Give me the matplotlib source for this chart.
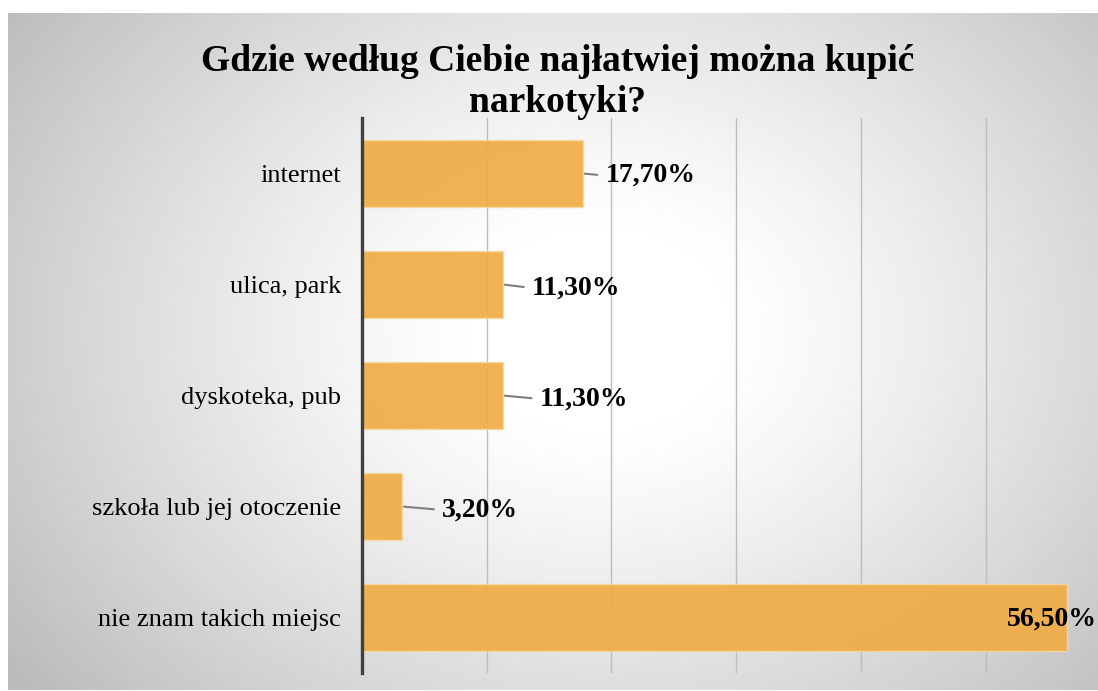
import numpy as np
import matplotlib
matplotlib.use("Agg")
from matplotlib import pyplot as plt

# dane z wykresu
kategorie = ["internet", "ulica, park", "dyskoteka, pub",
             "szkoła lub jej otoczenie", "nie znam takich miejsc"]
wartosci = [17.7, 11.3, 11.3, 3.2, 56.5]
etykiety = ["17,70%", "11,30%", "11,30%", "3,20%", "56,50%"]
tytul = "Gdzie według Ciebie najłatwiej można kupić\nnarkotyki?"

# przesunięcia etykiet (w punktach) - tylko wygląd
przes_x = [16.5, 21, 26.5, 29, 22]
przes_y = [-1.5, -2.5, -2.5, -2.5, -1.5]

W, H = 1098, 691
plt.rcParams['font.family'] = ['Liberation Serif', 'DejaVu Serif']

fig = plt.figure(figsize=(W / 100, H / 100), dpi=100)
fig.patch.set_facecolor("white")

# tło z gradientem (jasny środek, szare brzegi)
bx0, by0, bx1, by1 = 8, 13, W, 690
bg = fig.add_axes([bx0 / W, (H - by1) / H, (bx1 - bx0) / W, (by1 - by0) / H])
xx, yy = np.meshgrid(np.arange(bx0, bx1), np.arange(by0, by1))
d = np.sqrt(((xx - 600) / 600.0) ** 2 + ((yy - 330) / 470.0) ** 2)
t = np.clip((d - 0.22) / 1.0, 0, 1) ** 1.2
g = 255 - 68 * t
bg.imshow(np.dstack([g, g, g]).astype(np.uint8), aspect="auto",
          extent=[0, 1, 0, 1], interpolation="bilinear")
bg.set_axis_off()

# wykres
ax = fig.add_axes([362 / W, (H - 673) / H, (W - 362) / W, 555 / H])
ax.set_facecolor("none")
poz = np.arange(len(kategorie))
ax.barh(poz, wartosci, height=0.6, color="#F0AC44", alpha=0.92,
        edgecolor="#F7D9A4", linewidth=1, zorder=3)
ax.set_ylim(-0.5, len(kategorie) - 0.5)
ax.invert_yaxis()
ax.set_xlim(0, 736 / 12.47)
ax.set_xticks([10, 20, 30, 40, 50])
ax.set_xticklabels([])
ax.tick_params(axis="x", length=0)
ax.grid(axis="x", color="#bdbdbd", linewidth=1.0, zorder=1)
ax.set_yticks(poz)
ax.set_yticklabels(kategorie, fontsize=19)
ax.tick_params(axis="y", length=0, pad=15)
for s in ["top", "right", "bottom"]:
    ax.spines[s].set_visible(False)
ax.spines["left"].set_color("#404040")
ax.spines["left"].set_linewidth(2.4)
ax.spines["left"].set_zorder(4)

for i, (v, e) in enumerate(zip(wartosci, etykiety)):
    if v > 50:
        ax.annotate(e, xy=(v, i), xytext=(przes_x[i], przes_y[i]),
                    textcoords="offset points", ha="right", va="center",
                    fontsize=20, fontweight="bold", zorder=5)
    else:
        ax.annotate(e, xy=(v, i), xytext=(przes_x[i], przes_y[i]),
                    textcoords="offset points", ha="left", va="center",
                    fontsize=20, fontweight="bold", zorder=5,
                    arrowprops=dict(arrowstyle="-", color="#7f7f7f", lw=1.5,
                                    relpos=(0, 0.5), shrinkA=4, shrinkB=1.5))

fig.text(0.508, 1 - 82 / H, tytul, ha="center", va="center", fontsize=27,
         fontweight="bold", linespacing=1.2)

fig.savefig("out.png", dpi=100)
